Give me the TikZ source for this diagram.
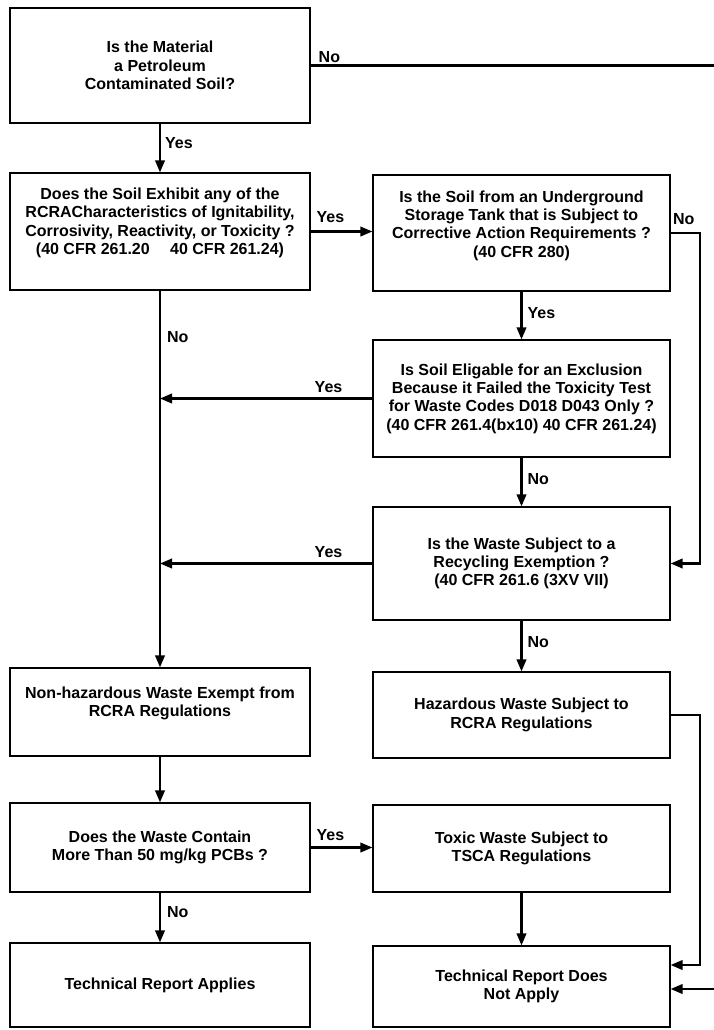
\documentclass[tikz,border=0pt]{standalone}
\usepackage{fontspec}
\setmainfont{Liberation Sans}
\usetikzlibrary{arrows.meta}
\begin{document}
\begin{tikzpicture}[x=1pt,y=-1pt,
  txt/.style={font=\bfseries\fontsize{16}{18.3}\selectfont},
  box/.style={txt, draw, line width=1.2pt, inner sep=2pt, align=center},
  lbox/.style={box, minimum width=300pt},
  rbox/.style={box, minimum width=297pt},
  conn/.style={line width=2.2pt, -{Triangle[length=12pt,width=9.5pt]}},
  lab/.style={txt, inner sep=1pt}]
\useasboundingbox (0,0) rectangle (713,1030);
\fill[white] (0,0) rectangle (713,1030);
\coordinate (rv) at (700,0);
\coordinate (rr) at (718,0);

\node[lbox, minimum height=115pt] (b1) at (160,65.5) {Is the Material\\a Petroleum\\Contaminated Soil?};
\node[lbox, minimum height=117pt] (b2) at (160,231.5) {Does the Soil Exhibit any of the\\RCRACharacteristics of Ignitability,\\Corrosivity, Reactivity, or Toxicity ?\\(40 CFR 261.20 \quad 40 CFR 261.24)\\[2pt]\mbox{}};
\node[rbox, minimum height=116pt] (b3) at (521.5,233) {Is the Soil from an Underground\\Storage Tank that is Subject to\\Corrective Action Requirements ?\\(40 CFR 280)\\[0pt]\mbox{}};
\node[rbox, minimum height=117pt] (b4) at (521.5,398.5) {Is Soil Eligable for an Exclusion\\Because it Failed the Toxicity Test\\for Waste Codes D018 D043 Only ?\\(40 CFR 261.4(bx10) 40 CFR 261.24)};
\node[rbox, minimum height=113pt] (b5) at (521.5,563.5) {Is the Waste Subject to a\\Recycling Exemption ?\\(40 CFR 261.6 (3XV VII)};
\node[lbox, minimum height=88pt] (b6) at (160,712) {Non-hazardous Waste Exempt from\\RCRA Regulations\\[2pt]\mbox{}};
\node[rbox, minimum height=86pt] (b7) at (521.5,715) {Hazardous Waste Subject to\\RCRA Regulations};
\node[lbox, minimum height=89pt] (b8) at (160,847.5) {Does the Waste Contain\\More Than 50 mg/kg PCBs ?};
\node[rbox, minimum height=87pt] (b9) at (521.5,848.5) {Toxic Waste Subject to\\TSCA Regulations};
\node[lbox, minimum height=84pt] (b10) at (160,985) {Technical Report Applies};
\node[rbox, minimum height=81pt] (b11) at (521.5,986.5) {Technical Report Does\\Not Apply};

% connectors
\draw[conn] (b1.south) -- node[lab, pos=0.4, right, xshift=3pt] {Yes} (b2.north);
\draw[conn] (b1.east) -- node[lab, pos=0, anchor=south west, xshift=6pt, yshift=1pt] {No} (b1.east -| rr) |- ([yshift=-2.5pt]b11.east);
\draw[conn] (b2.east) -- node[lab, pos=0, anchor=south west, xshift=4pt, yshift=7pt] {Yes} (b2.east -| b3.west);
\draw[conn] (b3.east) -- node[lab, pos=0.45, anchor=south, yshift=6pt] {No} (b3.east -| rv) |- (b5.east);
\draw[conn] (b3.south) -- node[lab, pos=0.45, right, xshift=4pt] {Yes} (b4.north);
\draw[conn] (b2.south) -- node[lab, pos=0.124, right, xshift=5pt] {No} (b6.north);
\draw[conn] (b4.west) -- node[lab, pos=0, anchor=south east, xshift=-28pt, yshift=4pt] {Yes} (b4.west -| b2.south);
\draw[conn] (b5.west) -- node[lab, pos=0, anchor=south east, xshift=-28pt, yshift=4pt] {Yes} (b5.west -| b2.south);
\draw[conn] (b4.south) -- node[lab, pos=0.45, right, xshift=4pt] {No} (b5.north);
\draw[conn] (b5.south) -- node[lab, pos=0.42, right, xshift=4pt] {No} (b7.north);
\draw[conn] (b7.east) -- (b7.east -| rv) |- ([yshift=21.5pt]b11.east);
\draw[conn] (b6.south) -- (b8.north);
\draw[conn] (b8.east) -- node[lab, pos=0, anchor=south west, xshift=4pt, yshift=5pt] {Yes} (b8.east -| b9.west);
\draw[conn] (b8.south) -- node[lab, pos=0.4, right, xshift=5pt] {No} (b10.north);
\draw[conn] (b9.south) -- (b11.north);
\end{tikzpicture}
\end{document}
